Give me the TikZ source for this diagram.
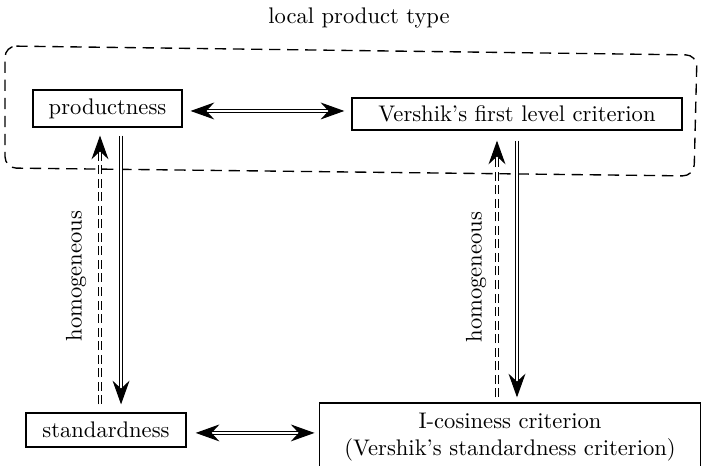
\documentclass[tikz,border=0pt]{standalone}
\usetikzlibrary{arrows.meta,positioning,calc}
\begin{document}
\begin{tikzpicture}[x=0.443pt,y=-0.443pt,
	crit/.style={draw, line width=0.6pt, inner sep=2pt},
	region/.style={line width=0.6pt, dash pattern=on 5pt off 3pt, rounded corners=5pt},
	impl/.style={double, double distance=1.2pt, line width=0.45pt, -{Stealth[length=10.5pt,width=7.5pt,inset=3.5pt]}},
	equiv/.style={impl, {Stealth[length=10.5pt,width=7.5pt,inset=3.5pt]}-{Stealth[length=10.5pt,width=7.5pt,inset=3.5pt]}},
	hom/.style={dash pattern=on 4pt off 2pt},
	lbl/.style={rotate=90}]
	\useasboundingbox (0,0) rectangle (701,466);
	% the four criteria
	\node[crit, minimum width=66pt, minimum height=16.4pt] (prod) at (107.5,108.5) {productness};
	\node[crit, minimum width=146.2pt, minimum height=14.2pt] (vfl) at (517,114) {Vershik's first level criterion};
	\node[crit, minimum width=70.9pt, minimum height=15.1pt] (std) at (106,430) {standardness};
	\node[crit, align=center, minimum width=169pt, minimum height=30.1pt] (icos) at (510,437)
		{I-cosiness criterion\\(Vershik's standardness criterion)};
	% dashed region for the local product type
	\node (lpt) at (359,18) {local product type};
	\draw[region] (5,46) -- (697,55) -- (694,176) -- (5,168) -- cycle;
	% horizontal equivalences
	\draw[equiv, shorten <=3.5pt, shorten >=3.1pt] ([yshift=-1.1pt]prod.east) -- ([yshift=-1.1pt]prod.east -| vfl.west);
	\draw[equiv, shorten <=4pt, shorten >=1.8pt] ([yshift=-1.3pt]std.east) -- ([yshift=-1.3pt]std.east -| icos.west);
	% vertical implications
	\draw[impl, hom, shorten <=3.5pt, shorten >=3.5pt] ([xshift=-2.66pt]std.north) -- ([xshift=-2.66pt]std.north |- prod.south);
	\draw[impl, shorten <=3.5pt, shorten >=3.5pt] ([xshift=6pt]prod.south) -- ([xshift=6pt]prod.south |- std.north);
	\draw[impl, hom, shorten <=2.2pt, shorten >=4.4pt] ([xshift=-5.76pt]icos.north) -- ([xshift=-5.76pt]icos.north |- vfl.south);
	\draw[impl, shorten <=4.4pt, shorten >=2.2pt] (vfl.south) -- (vfl.south |- icos.north);
	% labels
	\node[lbl] (hl) at (76,276) {homogeneous};
	\node[lbl] (hr) at (476,277) {homogeneous};
\end{tikzpicture}
\end{document}
